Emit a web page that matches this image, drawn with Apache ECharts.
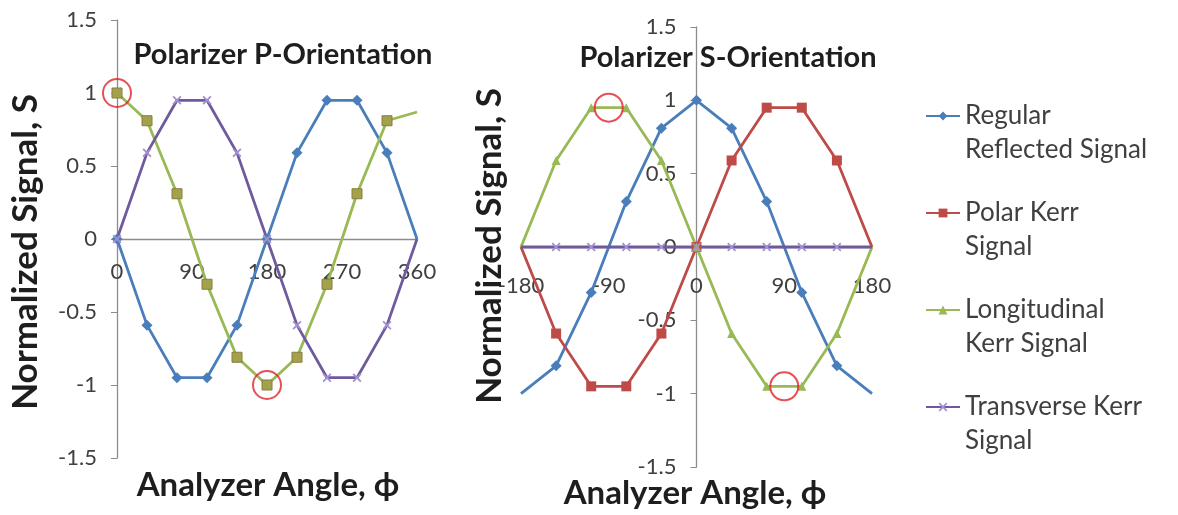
<!DOCTYPE html>
<html>
<head>
<meta charset="utf-8">
<script src="https://cdn.jsdelivr.net/npm/echarts@6/dist/echarts.min.js"></script>
<style>
  html, body { margin: 0; padding: 0; background: #ffffff; }
  #chart { width: 1178px; height: 515px; }
</style>
</head>
<body>
<div id="chart"></div>
<script>
// Analyzer angles (degrees)
const anglesP = [0, 36, 72, 108, 144, 180, 216, 252, 288, 324, 360];
const anglesS = [-180, -144, -108, -72, -36, 0, 36, 72, 108, 144, 180];

// Polarizer P-orientation signals
const regularP      = [0, -0.59, -0.95, -0.95, -0.59, 0, 0.59, 0.95, 0.95, 0.59, 0];
const polarP        = [1, 0.81, 0.31, -0.31, -0.81, -1, -0.81, -0.31, 0.31, 0.81];
const longitudinalP = [1, 0.81, 0.31, -0.31, -0.81, -1, -0.81, -0.31, 0.31, 0.81, 0.87];
const transverseP   = [0, 0.59, 0.95, 0.95, 0.59, 0, -0.59, -0.95, -0.95, -0.59, 0];

// Polarizer S-orientation signals
const regularS      = [-1, -0.81, -0.31, 0.31, 0.81, 1, 0.81, 0.31, -0.31, -0.81, -1];
const polarS        = [0, -0.59, -0.95, -0.95, -0.59, 0, 0.59, 0.95, 0.95, 0.59, 0];
const longitudinalS = [0, 0.59, 0.95, 0.95, 0.59, 0, -0.59, -0.95, -0.95, -0.59, 0];
const transverseS   = [0, 0, 0, 0, 0, 0, 0, 0, 0, 0, 0];

// Highlighted extrema (circled points)
const circlesP = [[0, 1], [180, -1]];
const circlesS = [[-90, 0.95], [90, -0.95]];

// Axis ranges and tick spacing
const xRangeP = [0, 360];
const xRangeS = [-180, 180];
const xStep = 90;
const yRange = [-1.5, 1.5];
const yStep = 0.5;

// Series names and their two-line legend text
const seriesNames = ['Regular Reflected Signal', 'Polar Kerr Signal', 'Longitudinal Kerr Signal', 'Transverse Kerr Signal'];
const legendLines = {
  'Regular Reflected Signal': ['Regular', 'Reflected Signal'],
  'Polar Kerr Signal': ['Polar Kerr', 'Signal'],
  'Longitudinal Kerr Signal': ['Longitudinal', 'Kerr Signal'],
  'Transverse Kerr Signal': ['Transverse Kerr', 'Signal']
};

const FONT = 'Lato, "Noto Sans", sans-serif';
const C = {
  blue: '#4a7ebb', red: '#be4b48', green: '#98b954', purple: '#6f5a9e', purpleMark: '#a48fd0',
  olive: '#a3a24c', oliveEdge: '#8a7c3c', axis: '#8c8c8c', tick: '#404040', text: '#1e1e1e', circle: '#e0242a'
};
const X_SYMBOL = 'path://M0,1.4L1.4,0L5,3.6L8.6,0L10,1.4L6.4,5L10,8.6L8.6,10L5,6.4L1.4,10L0,8.6L3.6,5Z';

// Plot boxes; the axes cross where the other axis is zero
const gridP = { left: 117, top: 20, width: 300, height: 438 };
const gridS = { left: 521, top: 27, width: 351, height: 440 };
// offset of an axis from its grid edge to the zero of the other axis
const zeroOffsetX = (g, range) => -g.height * (range[1] / (range[1] - range[0]));
const zeroOffsetY = (g, range) => -g.width * ((0 - range[0]) / (range[1] - range[0]));

const zip = (xs, ys) => ys.map((y, i) => [xs[i], y]);
const sizeExcept = (size, hidden) => (val, params) => hidden.indexOf(params.dataIndex) >= 0 ? 0 : size;

function lineSeries(name, grid, xs, ys, color, symbol, size, hidden, extra) {
  return Object.assign({
    name: name,
    type: 'line',
    xAxisIndex: grid, yAxisIndex: grid,
    data: zip(xs, ys),
    symbol: symbol,
    symbolSize: sizeExcept(size, hidden),
    showAllSymbol: true,
    lineStyle: { color: color, width: 2.8 },
    itemStyle: { color: color },
    emphasis: { disabled: true },
    z: 2
  }, extra || {});
}

function circleSeries(grid, pts) {
  return {
    type: 'scatter',
    xAxisIndex: grid, yAxisIndex: grid,
    data: pts,
    symbol: 'circle',
    symbolSize: 28,
    itemStyle: { color: 'rgba(0,0,0,0)', borderColor: C.circle, borderWidth: 2 },
    emphasis: { disabled: true },
    z: 5
  };
}

function xAxis(grid, g, range, margin) {
  return {
    type: 'value', gridIndex: grid, min: range[0], max: range[1], interval: xStep,
    position: 'bottom',
    offset: zeroOffsetX(g, yRange),
    axisLine: { show: true, onZero: false, lineStyle: { color: C.axis, width: 1.3 } },
    axisTick: { show: false },
    splitLine: { show: false },
    axisLabel: { margin: margin, fontFamily: FONT, fontSize: 22, color: C.tick }
  };
}

function yAxis(grid, g, xr) {
  return {
    type: 'value', gridIndex: grid, min: yRange[0], max: yRange[1], interval: yStep,
    position: 'left',
    offset: zeroOffsetY(g, xr),
    axisLine: { show: true, onZero: false, lineStyle: { color: C.axis, width: 1.3 } },
    axisTick: { show: true, inside: false, length: 6, lineStyle: { color: C.axis } },
    splitLine: { show: false },
    axisLabel: { margin: 20, fontFamily: FONT, fontSize: 22, color: C.tick }
  };
}

const boldText = (x, y, text, size, rot) => ({
  type: 'text', x: x, y: y, rotation: rot || 0,
  style: { text: text, font: 'bold ' + size + 'px ' + FONT, fill: C.text, align: 'center', verticalAlign: 'middle' },
  z: 10
});

const option = {
  animation: false,
  backgroundColor: '#ffffff',
  grid: [gridP, gridS],
  xAxis: [xAxis(0, gridP, xRangeP, 22), xAxis(1, gridS, xRangeS, 28)],
  yAxis: [yAxis(0, gridP, xRangeP), yAxis(1, gridS, xRangeS)],
  legend: {
    orient: 'vertical',
    left: 925, top: 65,
    padding: 0,
    itemGap: -5,
    itemWidth: 34, itemHeight: 11,
    data: seriesNames,
    selectedMode: false,
    formatter: name => '\n' + legendLines[name].join('\n'),
    textStyle: { fontFamily: FONT, fontSize: 26, lineHeight: 34, color: '#404040' }
  },
  graphic: [
    boldText(283, 55, 'Polarizer P-Orientation', 29),
    boldText(728, 58, 'Polarizer S-Orientation', 29),
    boldText(26, 252, 'Normalized Signal, S', 35, Math.PI / 2),
    boldText(490, 246, 'Normalized Signal, S', 35, Math.PI / 2),
    boldText(268, 485, 'Analyzer Angle, \u03d5', 33),
    boldText(695, 493, 'Analyzer Angle, \u03d5', 33)
  ],
  series: [
    // S-orientation (listed first so the legend takes its symbols)
    lineSeries(seriesNames[0], 1, anglesS, regularS, C.blue, 'diamond', 11, [0, 10]),
    lineSeries(seriesNames[1], 1, anglesS, polarS, C.red, 'rect', 10, [0, 10]),
    lineSeries(seriesNames[2], 1, anglesS, longitudinalS, C.green, 'triangle', 9, [0, 10]),
    lineSeries(seriesNames[3], 1, anglesS, transverseS, C.purple, X_SYMBOL, 9, [0, 10],
      { itemStyle: { color: C.purpleMark } }),
    circleSeries(1, circlesS),

    // P-orientation
    lineSeries(seriesNames[0], 0, anglesP, regularP, C.blue, 'diamond', 11, [10]),
    lineSeries(seriesNames[2], 0, anglesP, longitudinalP, C.green, 'none', 0, []),
    lineSeries(seriesNames[1], 0, anglesP, polarP, C.red, 'rect', 10, [],
      { lineStyle: { opacity: 0 }, itemStyle: { color: C.olive, borderColor: C.oliveEdge, borderWidth: 1 }, z: 3 }),
    lineSeries(seriesNames[3], 0, anglesP, transverseP, C.purple, X_SYMBOL, 9, [10],
      { itemStyle: { color: C.purpleMark } }),
    circleSeries(0, circlesP)
  ]
};

const chart = echarts.init(document.getElementById('chart'), null, { renderer: 'canvas' });
chart.setOption(option);
</script>
</body>
</html>
